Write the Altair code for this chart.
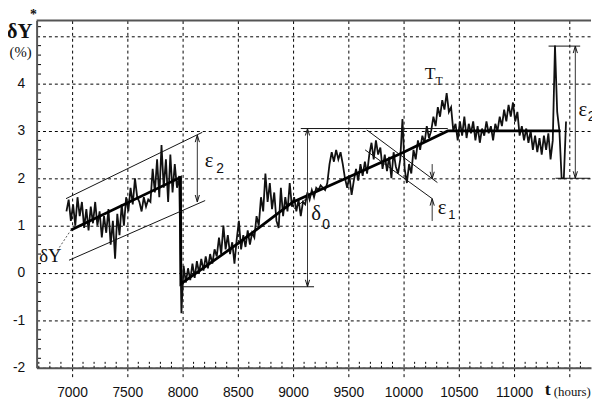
import altair as alt
import pandas as pd

W, H = 562, 352

X_DOMAIN = [6680, 11696]
Y_DOMAIN = [-2, 5.33]
X_TICKS = [7000, 7500, 8000, 8500, 9000, 9500, 10000, 10500, 11000, 11500]
Y_TICKS = [-2, -1, 0, 1, 2, 3, 4, 5]
X_MINOR = [t for t in range(6700, 11700, 100) if t % 500 != 0]
Y_MINOR = [k / 5 for k in range(-9, 27) if k % 5 != 0]

SEG1_T0, SEG1_DT = 6950, 20
SEG1_V = [1.3, 1.55, 1.1, 1.45, 1.0, 1.6, 1.2, 1.5, 0.95, 1.35,
          0.9, 1.4, 1.05, 1.5, 1.0, 1.3, 0.75, 1.2, 0.85, 1.35,
          0.6, 1.1, 0.3, 1.25, 0.8, 1.45, 1.0, 1.6, 1.3, 1.8,
          1.45, 2.0, 1.6, 1.5, 1.3, 1.6, 1.4, 1.55, 1.5, 2.2,
          1.7, 2.4, 1.6, 2.7, 1.8, 2.4, 1.5, 2.5, 1.7, 2.3,
          1.8, 2.05]
SEG2_T0, SEG2_DT = 7990, 20
SEG2_V = [-0.85, 0.15, -0.2, 0.1, -0.15, 0.2, -0.1, 0.25, 0.0, 0.3,
          0.05, 0.35, 0.1, 0.4, 0.2, 0.5, 0.35, 0.75, 0.4, 1.0,
          0.5, 0.8, 0.4, 0.65, 0.2, 0.7, 1.1, 0.5, 0.8, 0.55,
          0.9, 0.6, 0.85, 0.75, 1.2, 1.0, 1.6, 1.3, 2.1, 1.5,
          1.9, 1.35, 1.7, 1.1, 0.95, 1.8, 1.2, 1.6, 1.3, 1.9,
          1.4, 1.6, 1.3, 1.55, 1.2, 1.5, 1.45, 1.7, 1.55, 1.75,
          1.6, 1.8, 1.75, 1.85, 1.8, 1.75, 1.9, 2.3, 2.55, 2.35,
          2.6, 2.4, 2.55, 2.3, 2.0, 1.8, 2.05, 1.65, 1.95, 2.2,
          1.95, 2.3, 2.05, 2.35, 2.1, 2.5, 2.75, 2.4, 2.8, 2.5,
          2.65, 2.2, 2.5, 2.15, 2.45, 2.0, 2.55, 2.25, 2.1, 2.4,
          3.25, 2.2, 1.9, 2.3, 2.1, 2.6, 2.4, 2.8, 2.6, 2.9,
          2.75, 3.1, 2.85, 3.0, 3.3, 3.1, 3.5, 3.3, 3.65, 3.45,
          3.8, 3.4, 3.5, 3.0, 3.15, 2.8, 3.2, 2.9, 3.3, 2.85,
          3.15, 2.95, 3.2, 2.8, 3.1, 2.75, 3.05, 2.9, 3.2, 2.95,
          3.1, 2.8, 3.15, 3.0, 3.3, 3.1, 3.45, 3.2, 3.55, 3.3,
          3.6, 3.2, 3.4, 2.9, 3.1, 2.8, 3.05, 2.75, 3.0, 2.6,
          2.9, 2.55, 2.85, 2.5, 2.9, 2.6, 2.95, 2.4, 2.8, 4.8,
          3.4, 3.0, 2.0, 2.0, 3.2]

# thick trend lines
TREND_T = [6991, 7982, 7985, 8500, 9000, 9500, 10000, 10400, 11420]
TREND_V = [0.91, 2.02, -0.23, 0.62, 1.50, 2.02, 2.55, 3.00, 3.00]

# thin guide lines
GUIDE_T1 = [6946, 6973, 7990, 9070, 9667, 9652, 9009, 11312, 11375]
GUIDE_V1 = [1.57, 0.27, -0.29, 3.05, 3.02, 2.60, 1.36, 4.79, 2.00]
GUIDE_T2 = [8179, 8205, 9190, 10400, 10306, 10259, 9232, 11598, 11688]
GUIDE_V2 = [2.97, 1.53, -0.29, 3.05, 1.91, 1.57, 1.78, 4.79, 2.00]

# leader line for the dY label
LEADER_T = [6866, 6991]
LEADER_V = [0.47, 0.91]

# dimension arrows
ARROW_T = [8134, 9131, 10259, 10259, 11554]
ARROW_V1 = [2.91, 3.05, 2.30, 1.10, 4.79]
ARROW_V2 = [1.50, -0.29, 1.99, 1.57, 2.00]
UP_TIP_T = [8134, 9131, 10259, 11554]
UP_TIP_V = [2.91, 3.05, 1.57, 4.79]
DOWN_TIP_T = [8134, 9131, 10259, 11554]
DOWN_TIP_V = [1.50, -0.29, 1.99, 2.00]

# labels
SERIF_TEXT = ["ε", "δ", "ε", "T", "T", "ε", "δY", "(%)", "(hours)"]
SERIF_T = [8241, 9210, 10348, 10241, 10321, 11622, 6804, 6536, 11527]
SERIF_V = [2.36, 1.25, 1.38, 4.21, 4.05, 3.45, 0.35, 4.67, -2.52]
SERIF_SIZE = [21, 21, 21, 18, 12, 21, 19, 15, 13]
SUB_TEXT = ["2", "0", "1", "2"]
SUB_T = [8339, 9300, 10437, 11702]
SUB_V = [2.19, 1.02, 1.22, 3.30]
SUB_SIZE = [14, 14, 13, 14]
BOLD_TEXT = ["δY", "*", "t"]
BOLD_T = [6527, 6652, 11304]
BOLD_V = [5.08, 5.45, -2.48]
BOLD_SIZE = [21, 14, 18]

LABEL_FONT = "Liberation Sans, Arial, sans-serif"
SERIF = "Liberation Serif, Times New Roman, serif"
SANS = "Liberation Sans, Arial, sans-serif"

xs = alt.Scale(domain=X_DOMAIN, nice=False, zero=False)
ys = alt.Scale(domain=Y_DOMAIN, nice=False, zero=False)

x_axis = alt.Axis(values=X_TICKS, grid=True, gridColor="#000", gridDash=[3, 3],
                  gridWidth=1, gridOpacity=1, ticks=True, tickSize=10,
                  tickColor="#000", tickDash=[3, 3], tickWidth=1,
                  domainColor="#555", domainWidth=2, labelFont=LABEL_FONT,
                  labelFontSize=14, labelColor="#111", labelPadding=8,
                  labelFlush=False, labelOverlap=False,
                  labelExpr="datum.value == 11500 ? '' : '' + datum.value",
                  title=None)
y_axis = alt.Axis(values=Y_TICKS, grid=True, gridColor="#000", gridDash=[3, 3],
                  gridWidth=1, gridOpacity=1, ticks=False,
                  domainColor="#555", domainWidth=2, labelFont=LABEL_FONT,
                  labelFontSize=14, labelColor="#111", labelPadding=12,
                  labelFlush=False, labelOverlap=False,
                  labelExpr="datum.value == 5 ? '' : '' + datum.value", title=None)


def X(field):
    return alt.X(field, scale=xs, axis=x_axis)


def Y(field):
    return alt.Y(field, scale=ys, axis=y_axis)


series_df = pd.DataFrame({
    "t": [SEG1_T0 + i * SEG1_DT for i in range(len(SEG1_V))]
         + [SEG2_T0 + i * SEG2_DT for i in range(len(SEG2_V))],
    "v": SEG1_V + SEG2_V,
})

series = alt.Chart(series_df).mark_line(color="#111", strokeWidth=1.8).encode(
    x=X("t:Q"), y=Y("v:Q"),
)

top_border = alt.Chart(pd.DataFrame({"a": [0]})).mark_rule(color="#555", strokeWidth=2).encode(
    x=alt.value(0), x2=alt.value(W), y=alt.value(0)
)

xminor = alt.Chart(pd.DataFrame({"t": X_MINOR, "y1": [-2.0] * len(X_MINOR),
                                 "y2": [-1.87] * len(X_MINOR)})).mark_rule(
    color="#000", strokeWidth=1, strokeDash=[2, 2]).encode(
    x=X("t:Q"), y=Y("y1:Q"), y2="y2:Q",
)
yminor = alt.Chart(pd.DataFrame({"v": Y_MINOR, "x1": [6693] * len(Y_MINOR),
                                 "x2": [6720] * len(Y_MINOR)})).mark_rule(
    color="#000", strokeWidth=1).encode(
    y=Y("v:Q"), x=X("x1:Q"), x2="x2:Q",
)

trend = alt.Chart(pd.DataFrame({"t": TREND_T, "v": TREND_V, "i": list(range(len(TREND_T)))})).mark_line(
    color="#000", strokeWidth=2.8).encode(
    x=X("t:Q"), y=Y("v:Q"), order="i:Q",
)

guides = alt.Chart(pd.DataFrame({"t1": GUIDE_T1, "v1": GUIDE_V1, "t2": GUIDE_T2, "v2": GUIDE_V2})).mark_rule(
    color="#111", strokeWidth=1).encode(
    x=X("t1:Q"), x2="t2:Q", y=Y("v1:Q"), y2="v2:Q",
)

leader = alt.Chart(pd.DataFrame({"t": LEADER_T, "v": LEADER_V})).mark_line(
    color="#555", strokeWidth=1, strokeDash=[2, 2]).encode(
    x=X("t:Q"), y=Y("v:Q"),
)

arrows = alt.Chart(pd.DataFrame({"t": ARROW_T, "v1": ARROW_V1, "v2": ARROW_V2})).mark_rule(
    color="#333", strokeWidth=1).encode(
    x=X("t:Q"), y=Y("v1:Q"), y2="v2:Q",
)

UP_PATH = "M -0.3 1 L 0 0 L 0.3 1"
DOWN_PATH = "M -0.3 -1 L 0 0 L 0.3 -1"
up_tips = alt.Chart(pd.DataFrame({"t": UP_TIP_T, "v": UP_TIP_V})).mark_point(
    shape=UP_PATH, filled=False, size=200, color="#111", strokeWidth=1, opacity=1).encode(
    x=X("t:Q"), y=Y("v:Q"),
)
down_tips = alt.Chart(pd.DataFrame({"t": DOWN_TIP_T, "v": DOWN_TIP_V})).mark_point(
    shape=DOWN_PATH, filled=False, size=200, color="#111", strokeWidth=1, opacity=1).encode(
    x=X("t:Q"), y=Y("v:Q"),
)


def text_layer(texts, ts, vs, sizes, font, weight):
    df = pd.DataFrame({"t": ts, "v": vs, "txt": texts, "s": sizes})
    return alt.Chart(df).mark_text(font=font, fontWeight=weight, color="#111",
                                   align="center", baseline="middle").encode(
        x=X("t:Q"), y=Y("v:Q"),
        text="txt:N",
        size=alt.Size("s:Q", scale=None, legend=None),
    )


serif_labels = text_layer(SERIF_TEXT, SERIF_T, SERIF_V, SERIF_SIZE, SERIF, "normal")
sub_labels = text_layer(SUB_TEXT, SUB_T, SUB_V, SUB_SIZE, SANS, "normal")
bold_labels = text_layer(BOLD_TEXT, BOLD_T, BOLD_V, BOLD_SIZE, SERIF, "bold")

chart = alt.layer(
    series, top_border, xminor, yminor, trend, guides, leader, arrows,
    up_tips, down_tips, serif_labels, sub_labels, bold_labels,
).properties(
    width=W, height=H,
    autosize=alt.AutoSizeParams(type="none"),
    padding={"left": 29, "top": 10, "right": 1, "bottom": 32},
    background="white",
).configure_view(strokeOpacity=0)

chart.save("out.html", embed_options={"renderer": "svg", "actions": False})
